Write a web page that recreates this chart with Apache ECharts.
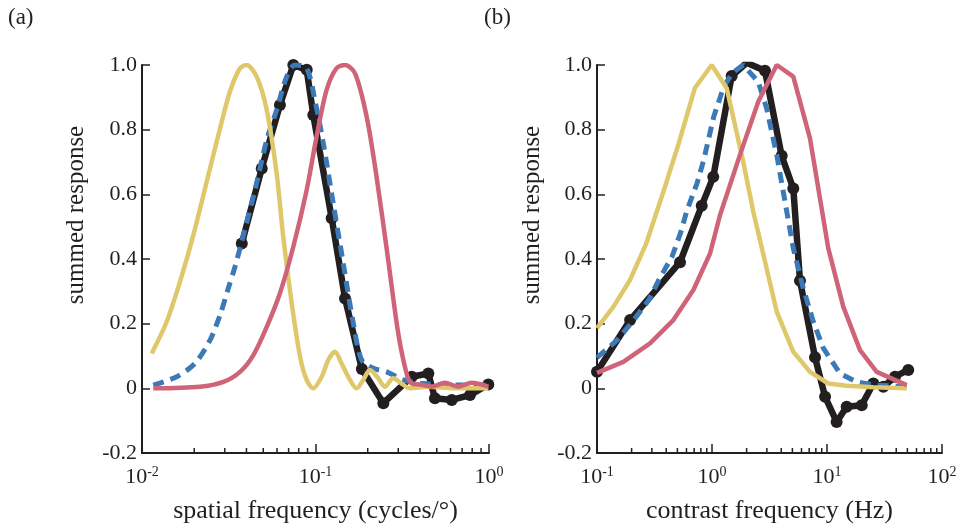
<!DOCTYPE html>
<html>
<head>
<meta charset="utf-8">
<script src="https://cdn.jsdelivr.net/npm/echarts@6/dist/echarts.min.js"></script>
<style>
html, body { margin: 0; background: #fff; }
#main { width: 965px; height: 531px; }
</style>
</head>
<body>
<div id="main"></div>
<script>
// panel (a): spatial frequency (cycles/deg) vs summed response
var spatialMeasured = [
  [0.0376, 0.448], [0.0490, 0.68], [0.0624, 0.876], [0.0745, 1.0], [0.0890, 0.985],
  [0.0971, 0.845], [0.124, 0.526], [0.148, 0.278], [0.185, 0.06], [0.246, -0.046],
  [0.359, 0.036], [0.447, 0.046], [0.488, -0.031], [0.610, -0.036], [0.777, -0.021],
  [0.991, 0.012]
];
var spatialModel = [
  [0.01161, 0.01], [0.01585, 0.036], [0.02018, 0.077], [0.02466, 0.149], [0.02818, 0.227],
  [0.03141, 0.309], [0.03436, 0.376], [0.03758, 0.454], [0.04477, 0.613], [0.05236, 0.768],
  [0.0597, 0.861], [0.06823, 0.964], [0.07621, 1.0], [0.08892, 0.99], [0.09931, 0.89],
  [0.1109, 0.758], [0.1265, 0.572], [0.1445, 0.387], [0.1652, 0.201], [0.1845, 0.088],
  [0.2153, 0.062], [0.257, 0.051], [0.3206, 0.026], [0.4178, 0.015], [0.631, 0.01],
  [0.991, 0.01]
];
var spatialLow = [
  [0.01138, 0.108], [0.01387, 0.206], [0.01656, 0.33], [0.01977, 0.474], [0.0236, 0.639],
  [0.02818, 0.804], [0.03214, 0.918], [0.03673, 0.99], [0.04009, 1.0], [0.04581, 0.964],
  [0.05236, 0.861], [0.0597, 0.665], [0.06516, 0.469], [0.07295, 0.263], [0.08147, 0.098],
  [0.08892, 0.026], [0.09705, 0.0], [0.1086, 0.036], [0.1186, 0.088], [0.1294, 0.113],
  [0.1413, 0.077], [0.1581, 0.026], [0.1726, 0.0], [0.1884, 0.026], [0.2061, 0.057],
  [0.2301, 0.031], [0.2512, 0.005], [0.2805, 0.031], [0.3133, 0.015], [0.3508, 0.0],
  [0.4467, 0.005], [0.631, 0.0], [0.991, 0.0]
];
var spatialHigh = [
  [0.01161, 0.0], [0.02158, 0.005], [0.02944, 0.02], [0.03673, 0.051], [0.04385, 0.103],
  [0.05236, 0.19], [0.06237, 0.294], [0.07447, 0.438], [0.08892, 0.613], [0.1014, 0.778],
  [0.1159, 0.923], [0.1321, 0.99], [0.1479, 1.0], [0.169, 0.974], [0.1972, 0.84],
  [0.2249, 0.654], [0.2624, 0.397], [0.2999, 0.17], [0.335, 0.046], [0.3585, 0.015],
  [0.3981, 0.012], [0.4677, 0.005], [0.5572, 0.017], [0.6653, 0.005], [0.7943, 0.017],
  [0.991, 0.005]
];

// panel (b): contrast frequency (Hz) vs summed response
var temporalMeasured = [
  [0.1, 0.051], [0.194, 0.211], [0.527, 0.39], [0.814, 0.565], [1.026, 0.654],
  [1.483, 0.966], [2.003, 1.007], [2.89, 0.982], [4.036, 0.719], [5.093, 0.618],
  [5.821, 0.333], [7.866, 0.096], [9.62, -0.026], [12.13, -0.104], [14.83, -0.057],
  [20.04, -0.052], [25.29, 0.015], [30.9, 0.005], [39.0, 0.036], [50.9, 0.057]
];
var temporalModel = [
  [0.1, 0.095], [0.1496, 0.149], [0.2089, 0.211], [0.2818, 0.273], [0.3443, 0.335],
  [0.4487, 0.407], [0.5309, 0.479], [0.6067, 0.551], [0.7413, 0.634], [0.8472, 0.706],
  [1.035, 0.84], [1.265, 0.933], [1.5, 0.975], [1.871, 1.0], [2.523, 0.948],
  [2.985, 0.866], [3.656, 0.722], [4.315, 0.577], [5.093, 0.433], [6.223, 0.309],
  [7.603, 0.206], [9.29, 0.124], [12.97, 0.046], [18.11, 0.02], [25.29, 0.01],
  [49.3, 0.005]
];
var temporalLow = [
  [0.1, 0.186], [0.1387, 0.252], [0.1936, 0.335], [0.2661, 0.445], [0.3715, 0.6],
  [0.5129, 0.757], [0.7079, 0.928], [0.9931, 1.0], [1.343, 0.928], [1.871, 0.7],
  [2.286, 0.546], [2.89, 0.392], [3.656, 0.237], [5.093, 0.113], [7.112, 0.051],
  [10.26, 0.015], [14.83, 0.008], [25.29, 0.003], [49.3, 0.0]
];
var temporalHigh = [
  [0.1, 0.048], [0.1694, 0.082], [0.289, 0.139], [0.4613, 0.211], [0.6887, 0.304],
  [0.9616, 0.417], [1.175, 0.536], [1.75, 0.722], [2.529, 0.887], [3.656, 1.0],
  [5.093, 0.964], [7.112, 0.773], [10.26, 0.433], [13.87, 0.252], [19.36, 0.118],
  [27.04, 0.051], [49.3, 0.01]
];

var minorTicksA = [0.02, 0.03, 0.04, 0.05, 0.06, 0.07, 0.08, 0.09,
                   0.2, 0.3, 0.4, 0.5, 0.6, 0.7, 0.8, 0.9];
var minorTicksB = [0.2, 0.3, 0.4, 0.5, 0.6, 0.7, 0.8, 0.9,
                   2, 3, 4, 5, 6, 7, 8, 9,
                   20, 30, 40, 50, 60, 70, 80, 90];

var ink = '#231f20';
var serif = 'Liberation Serif';

var chart = echarts.init(document.getElementById('main'));

function xAxisFor(idx, min, max, title) {
  return {
    type: 'log', logBase: 10, gridIndex: idx, min: min, max: max,
    axisLine: { onZero: false, lineStyle: { color: ink, width: 2 } },
    axisTick: { inside: true, length: 9, lineStyle: { color: ink, width: 1.5 } },
    splitLine: { show: false },
    axisLabel: {
      margin: 12,
      formatter: function (v) {
        var e = Math.round(Math.log10(v));
        return '{b|10}{s|' + e + '}';
      },
      rich: {
        b: { fontFamily: serif, fontSize: 22, color: ink },
        s: { fontFamily: serif, fontSize: 14, color: ink, padding: [0, 0, 10, 0] }
      }
    },
    name: title, nameLocation: 'middle', nameGap: 45,
    nameTextStyle: { fontFamily: serif, fontSize: 26, color: ink }
  };
}

function yAxisFor(idx) {
  return {
    type: 'value', gridIndex: idx, min: -0.2, max: 1, interval: 0.2,
    axisLine: { show: true, onZero: false, lineStyle: { color: ink, width: 2 } },
    axisTick: { show: true, inside: true, length: 8, lineStyle: { color: ink, width: 1.5 } },
    splitLine: { show: false },
    axisLabel: {
      margin: 5, fontFamily: serif, fontSize: 22, color: ink,
      formatter: function (v) {
        if (Math.abs(v) < 1e-9) return '0';
        return v.toFixed(1);
      }
    }
  };
}

function minorTicks(idx, values) {
  return {
    type: 'custom', xAxisIndex: idx, yAxisIndex: idx, silent: true, clip: false, z: 1,
    data: values.map(function (v) { return [v, -0.2]; }),
    renderItem: function (params, api) {
      var p = api.coord([api.value(0), api.value(1)]);
      return {
        type: 'line',
        shape: { x1: p[0], y1: p[1], x2: p[0], y2: p[1] - 5 },
        style: { stroke: ink, lineWidth: 1.5 }
      };
    }
  };
}

function measuredLine(idx, data) {
  return {
    type: 'line', xAxisIndex: idx, yAxisIndex: idx, data: data, z: 2,
    symbol: 'circle', symbolSize: 12, showSymbol: true,
    itemStyle: { color: ink },
    lineStyle: { color: ink, width: 6.5 }
  };
}

function modelLine(idx, data, smooth) {
  return {
    type: 'line', xAxisIndex: idx, yAxisIndex: idx, data: data, z: 3,
    symbol: 'none', smooth: smooth,
    lineStyle: { color: '#3b7ab7', width: 5, type: [11, 7] }
  };
}

function curve(idx, data, color, smooth) {
  return {
    type: 'line', xAxisIndex: idx, yAxisIndex: idx, data: data, z: 4,
    symbol: 'none', smooth: smooth,
    lineStyle: { color: color, width: 4.5 }
  };
}

option = {
  animation: false,
  backgroundColor: '#fff',
  grid: [
    { left: 142, top: 65, width: 347, height: 388 },
    { left: 597, top: 65, width: 345, height: 388 }
  ],
  xAxis: [
    xAxisFor(0, 0.01, 1, 'spatial frequency (cycles/°)'),
    xAxisFor(1, 0.1, 100, 'contrast frequency (Hz)')
  ],
  yAxis: [yAxisFor(0), yAxisFor(1)],
  graphic: [
    { type: 'text', left: 8, top: 6, style: { text: '(a)', fontFamily: serif, fontSize: 23, fill: ink } },
    { type: 'text', left: 484, top: 6, style: { text: '(b)', fontFamily: serif, fontSize: 23, fill: ink } },
    { type: 'text', x: 76, y: 215, rotation: Math.PI / 2,
      style: { text: 'summed response', fontFamily: serif, fontSize: 25, fill: ink, align: 'center', verticalAlign: 'middle' } },
    { type: 'text', x: 532, y: 215, rotation: Math.PI / 2,
      style: { text: 'summed response', fontFamily: serif, fontSize: 25, fill: ink, align: 'center', verticalAlign: 'middle' } }
  ],
  series: [
    minorTicks(0, minorTicksA),
    minorTicks(1, minorTicksB),
    measuredLine(0, spatialMeasured),
    modelLine(0, spatialModel, 0.3),
    curve(0, spatialLow, '#dfc86c', 0.3),
    curve(0, spatialHigh, '#cf6479', 0.3),
    measuredLine(1, temporalMeasured),
    modelLine(1, temporalModel, false),
    curve(1, temporalLow, '#dfc86c', false),
    curve(1, temporalHigh, '#cf6479', false)
  ]
};
chart.setOption(option);
</script>
</body>
</html>
